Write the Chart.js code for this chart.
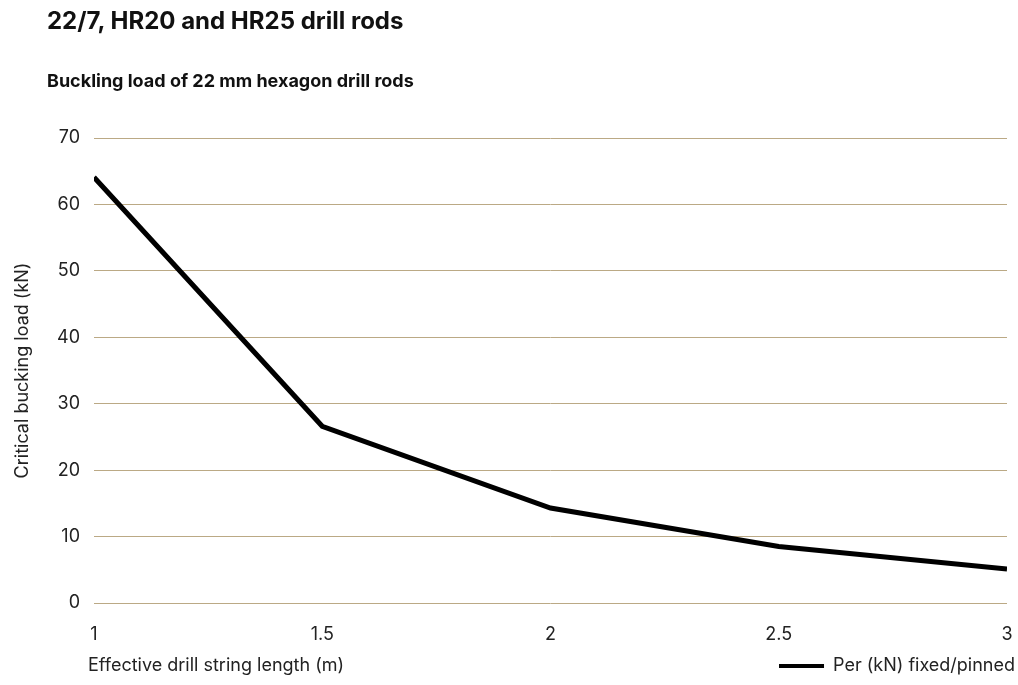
<!DOCTYPE html>
<html>
<head>
<meta charset="utf-8">
<script src="https://cdn.jsdelivr.net/npm/chart.js@4"></script>
<style>
  body { margin: 0; background: #fff; font-family: Inter, "Liberation Sans", Arial, sans-serif; }
  #wrap { position: relative; width: 1018px; height: 685px; }
  h1 { position: absolute; left: 47px; top: 6px; margin: 0; font-size: 24px; font-weight: bold; color: #111; }
  h2 { position: absolute; left: 47px; top: 70px; margin: 0; font-size: 18px; font-weight: bold; color: #111; }
  canvas { position: absolute; left: 0; top: 0; }
</style>
</head>
<body>
<div id="wrap">
  <canvas id="chart" width="1018" height="685"></canvas>
  <h1>22/7, HR20 and HR25 drill rods</h1>
  <h2>Buckling load of 22 mm hexagon drill rods</h2>
</div>
<script>
const lengths = [1, 1.5, 2, 2.5, 3];
const loads = [64.1, 26.6, 14.3, 8.5, 5.1];
const xTitle = 'Effective drill string length (m)';
const yTitle = 'Critical bucking load (kN)';
const seriesName = 'Per (kN) fixed/pinned';

const font = "Inter, 'Liberation Sans', Arial, sans-serif";
Chart.defaults.font.family = font;
Chart.defaults.font.size = 18;
Chart.defaults.color = '#222';

// x-axis title sits on the same row as the legend, left aligned
const xTitlePlugin = {
  id: 'xTitle',
  afterDraw(chart) {
    const c = chart.ctx;
    const lg = chart.legend;
    const hb = lg.legendHitBoxes && lg.legendHitBoxes[0];
    c.save();
    c.font = '18px ' + font;
    c.fillStyle = '#222';
    c.textBaseline = 'middle';
    c.fillText(xTitle, 88, hb ? hb.top + hb.height / 2 : lg.top + lg.height / 2);
    c.restore();
  }
};

new Chart(document.getElementById('chart'), {
  type: 'line',
  data: {
    datasets: [{
      label: seriesName,
      data: lengths.map((x, i) => ({ x: x, y: loads[i] })),
      borderColor: '#000',
      backgroundColor: '#000',
      borderWidth: 5,
      pointRadius: 0,
      tension: 0
    }]
  },
  options: {
    responsive: false,
    animation: false,
    layout: { padding: { top: 138, left: 12, right: 0, bottom: 0 } },
    scales: {
      x: {
        type: 'linear',
        min: 1,
        max: 3,
        grid: { display: false },
        border: { display: false },
        ticks: { stepSize: 0.5, padding: 13, maxRotation: 0, color: '#222', callback: v => String(v) },
        afterFit: s => { s.height = 51; s.paddingRight = 11; }
      },
      y: {
        min: 0,
        max: 70,
        grid: { color: '#bba985', drawTicks: false },
        border: { display: false },
        ticks: { stepSize: 10, padding: 14, color: '#222' },
        title: { display: true, text: yTitle, font: { size: 18 }, color: '#222', padding: { top: 0, bottom: 8 } },
        afterFit: s => { s.width = 82; s.paddingTop = 0; }
      }
    },
    plugins: {
      legend: {
        position: 'bottom',
        align: 'end',
        labels: {
          boxWidth: 45,
          boxHeight: 4,
          padding: 3,
          color: '#222',
          font: { size: 18 },
          generateLabels: chart => Chart.defaults.plugins.legend.labels.generateLabels(chart).map(l => Object.assign(l, { lineWidth: 0, fillStyle: '#000' }))
        }
      },
      tooltip: { enabled: false }
    }
  },
  plugins: [xTitlePlugin]
});
</script>
</body>
</html>
